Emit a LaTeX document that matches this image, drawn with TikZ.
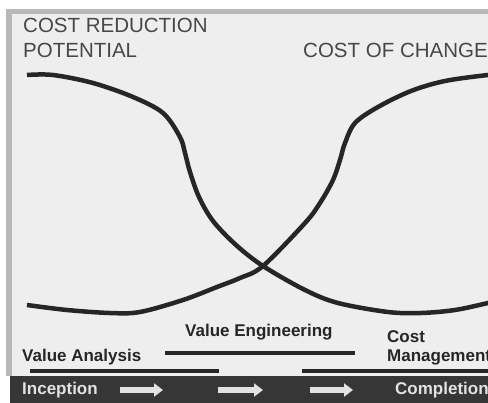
\documentclass[tikz,border=0pt]{standalone}
\usepackage{fontspec}
\setmainfont{Liberation Sans}
\usepackage{tikz}
\usetikzlibrary{arrows.meta,positioning}
\definecolor{panel}{HTML}{EEEEEE}
\definecolor{rim}{HTML}{B8B8B8}
\definecolor{ink}{HTML}{262626}
\definecolor{band}{HTML}{363636}
\definecolor{pale}{HTML}{E2E2E2}

\tikzset{
  curve/.style={line width=4.5pt, draw=ink},
  phase/.style={line width=4pt, draw=ink},
  heading/.style={anchor=base west, inner sep=0pt, text=ink!85, font=\fontsize{20.5}{24}\selectfont},
  tag/.style={anchor=base west, inner sep=0pt, text=ink, font=\fontsize{17}{19}\selectfont\bfseries},
  stage/.style={anchor=base west, inner sep=0pt, text=pale, font=\fontsize{17}{19}\selectfont\bfseries},
  flow/.style={line width=5.5pt, draw=pale, -{Triangle[length=9pt,width=13pt]}}
}

\begin{document}
\begin{tikzpicture}[x=1pt, y=-1pt]
\useasboundingbox (0,0) rectangle (488,403);
\clip (0,0) rectangle (488,403);
\fill[white] (0,0) rectangle (488,403);
\fill[panel] (7,9) rectangle (488,376);
\fill[rim] (7,9) rectangle (488,14);
\fill[rim] (6,9) rectangle (12,376);
% headings
\node[heading] (crp1) at (23,33) {COST REDUCTION};
\node[heading] (crp2) at (23,58) {POTENTIAL};
\node[heading] (coc) at (303,58) {COST OF CHANGE};
% the two curves
\draw[curve] plot[smooth, tension=0.55] coordinates {(27,75) (53,75) (93,83) (133,97) (163,113) (180,137) (185,153) (190,172) (199,197) (213,221) (236,245) (263,266) (305,290) (338,303) (388,312) (421,313) (455,310) (488,303) (505,299)};
\draw[curve] plot[smooth, tension=0.55] coordinates {(27,305) (67,310) (110,313) (140,312) (183,300) (217,287) (240,278) (263,266) (305,223) (320,203) (333,180) (340,160) (345,143) (355,123) (378,107) (411,91) (445,81) (488,75) (505,74)};
% phases
\node[tag] (va) at (22,362) {Value Analysis};
\node[tag] (ve) at (185,337) {Value Engineering};
\node[tag] (cm1) at (387,343) {Cost};
\node[tag] (cm2) at (387,362) {Management};
\draw[phase] (30,371) -- (219,371);
\draw[phase] (165,353) -- (355,353);
\draw[phase] (302,371) -- (500,371);
% bottom band
\fill[band] (10,376) rectangle (488,403);
\node[stage] (start) at (22,395) {Inception};
\node[stage] (end) at (395,395) {Completion};
\foreach \a/\b in {120/163, 218/263, 310/353} \draw[flow] (\a,390) -- (\b,390);
\end{tikzpicture}
\end{document}
